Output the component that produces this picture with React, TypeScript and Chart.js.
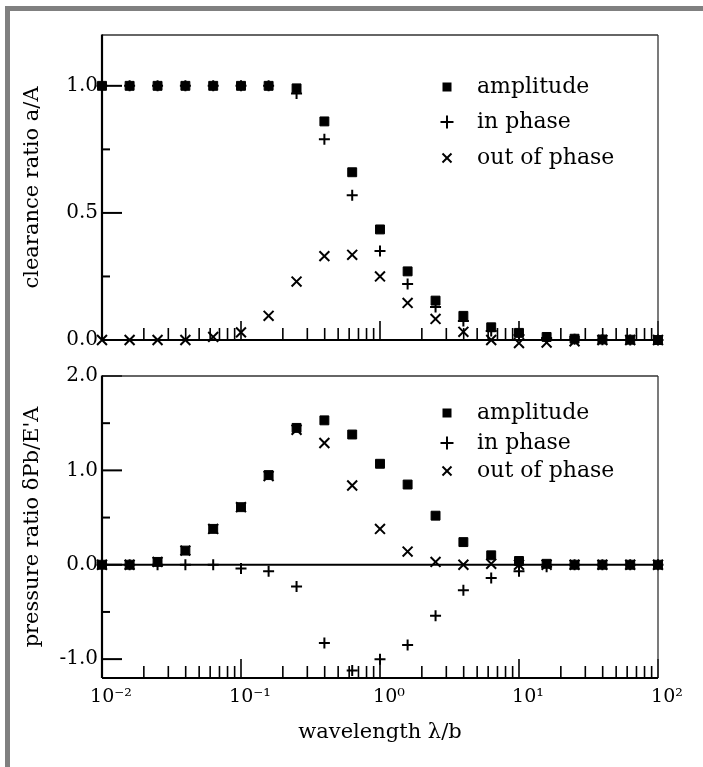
import React, { useEffect, useRef } from 'react';
import { Chart, registerables } from 'chart.js';

Chart.register(...registerables);

const FONT = "'DejaVu Serif', 'Liberation Serif', serif";

// wavelength λ/b (x values, log spaced)
const wavelengths = [0.01, 0.0158, 0.0251, 0.0398, 0.0631, 0.1, 0.158, 0.251, 0.398, 0.631, 1, 1.58, 2.51, 3.98, 6.31, 10, 15.8, 25.1, 39.8, 63.1, 100];

// top panel: clearance ratio a/A
const clearanceAmplitude = [1.0, 1.0, 1.0, 1.0, 1.0, 1.0, 1.0, 0.99, 0.86, 0.66, 0.435, 0.27, 0.155, 0.095, 0.05, 0.028, 0.012, 0.005, 0.002, 0.001, 0.0];
const clearanceInPhase = [1.0, 1.0, 1.0, 1.0, 1.0, 1.0, 1.0, 0.97, 0.79, 0.57, 0.35, 0.22, 0.13, 0.075, 0.035, 0.02, 0.008, 0.003, 0.001, 0.0, 0.0];
const clearanceOutPhase = [0.0, 0.0, 0.0, 0.0, 0.012, 0.03, 0.095, 0.23, 0.33, 0.335, 0.25, 0.146, 0.083, 0.032, 0.0, -0.012, -0.01, -0.005, 0.0, 0.0, 0.0];

// bottom panel: pressure ratio δPb/E'A
const pressureAmplitude = [0.0, 0.0, 0.03, 0.15, 0.38, 0.61, 0.95, 1.45, 1.53, 1.38, 1.07, 0.85, 0.52, 0.24, 0.1, 0.04, 0.01, 0.0, 0.0, 0.0, 0.0];
const pressureInPhase = [0.0, 0.0, 0.0, 0.0, 0.0, -0.04, -0.07, -0.23, -0.83, -1.12, -1.0, -0.85, -0.54, -0.27, -0.14, -0.07, -0.02, 0.0, 0.0, 0.0, 0.0];
const pressureOutPhase = [0.0, 0.0, 0.03, 0.15, 0.38, 0.61, 0.94, 1.43, 1.29, 0.84, 0.38, 0.14, 0.03, 0.0, 0.01, 0.0, 0.0, 0.0, 0.0, 0.0, 0.0];

// ticks
const topYMajor = [0, 0.5, 1.0];
const topYMinor = [0.25, 0.75];
const bottomYMajor = [-1, 0, 1, 2];
const bottomYMinor = [-0.5, 0.5, 1.5];
const xDecades = [0.01, 0.1, 1, 10, 100];
const xDecadeLabels = ['10⁻²', '10⁻¹', '10⁰', '10¹', '10²'];
const xMinorFactors = [2, 3, 4, 5, 6, 7, 8, 9];

const seriesLabels = ['amplitude', 'in phase', 'out of phase'];

function line(ctx: CanvasRenderingContext2D, x1: number, y1: number, x2: number, y2: number) {
  ctx.beginPath();
  ctx.moveTo(x1, y1);
  ctx.lineTo(x2, y2);
  ctx.stroke();
}

function drawMarker(ctx: CanvasRenderingContext2D, kind: number, x: number, y: number) {
  ctx.fillStyle = '#000';
  ctx.strokeStyle = '#000';
  ctx.lineWidth = 2;
  if (kind === 0) {
    ctx.fillRect(x - 4.5, y - 4.5, 9, 9);
  } else if (kind === 1) {
    line(ctx, x - 6.5, y, x + 6.5, y);
    line(ctx, x, y - 6.5, x, y + 6.5);
  } else {
    line(ctx, x - 4.5, y - 4.5, x + 4.5, y + 4.5);
    line(ctx, x - 4.5, y + 4.5, x + 4.5, y - 4.5);
  }
}

function framePlugin(yMajor: number[], yMinor: number[], zeroLine: boolean, legendRows: number[]) {
  return {
    id: 'frameTicks',
    beforeDatasetsDraw(chart: any) {
      const { ctx, chartArea: a, scales } = chart;
      const xs = scales.x;
      const ys = scales.y;
      ctx.save();
      ctx.strokeStyle = '#000';
      if (zeroLine) {
        const y0 = ys.getPixelForValue(0);
        ctx.lineWidth = 2;
        line(ctx, a.left, y0, a.right, y0);
      }
      ctx.lineWidth = 2;
      yMajor.forEach((v) => {
        const y = ys.getPixelForValue(v);
        line(ctx, a.left, y, a.left + 20, y);
      });
      yMinor.forEach((v) => {
        const y = ys.getPixelForValue(v);
        line(ctx, a.left, y, a.left + 8, y);
      });
      ctx.lineWidth = 1.6;
      xDecades.forEach((d) => {
        const x = xs.getPixelForValue(d);
        line(ctx, x, a.bottom, x, a.bottom - 19);
        if (d < 100) {
          xMinorFactors.forEach((m) => {
            const xm = xs.getPixelForValue(d * m);
            line(ctx, xm, a.bottom, xm, a.bottom - 12);
          });
        }
      });
      // frame
      ctx.strokeStyle = '#333';
      ctx.lineWidth = 1.3;
      line(ctx, a.left, a.top, a.right, a.top);
      line(ctx, a.right, a.top, a.right, a.bottom);
      ctx.strokeStyle = '#000';
      ctx.lineWidth = 2.2;
      line(ctx, a.left, a.top - 0.5, a.left, a.bottom);
      line(ctx, a.left, a.bottom, a.right, a.bottom);
      ctx.restore();
    },
    afterDatasetsDraw(chart: any) {
      const { ctx, chartArea: a } = chart;
      ctx.save();
      ctx.font = `22px ${FONT}`;
      ctx.textBaseline = 'middle';
      ctx.textAlign = 'left';
      seriesLabels.forEach((lab, i) => {
        const y = a.top + legendRows[i];
        drawMarker(ctx, i, a.right - 211, y);
        ctx.fillStyle = '#000';
        ctx.fillText(lab, a.right - 181, y);
      });
      ctx.restore();
    },
  };
}

function makeDatasets(amp: number[], inp: number[], outp: number[]) {
  const pts = (arr: number[]) => wavelengths.map((x, i) => ({ x, y: arr[i] }));
  return [
    {
      label: seriesLabels[0],
      data: pts(amp),
      showLine: false,
      clip: false,
      pointStyle: 'rect',
      pointRadius: 6.3,
      pointBackgroundColor: '#000',
      pointBorderColor: '#000',
      pointBorderWidth: 1,
    },
    {
      label: seriesLabels[1],
      data: pts(inp),
      showLine: false,
      clip: false,
      pointStyle: 'cross',
      pointRadius: 5.5,
      pointBackgroundColor: '#000',
      pointBorderColor: '#000',
      pointBorderWidth: 2,
    },
    {
      label: seriesLabels[2],
      data: pts(outp),
      showLine: false,
      clip: false,
      pointStyle: 'crossRot',
      pointRadius: 7,
      pointBackgroundColor: '#000',
      pointBorderColor: '#000',
      pointBorderWidth: 2,
    },
  ];
}

function makeConfig(isTop: boolean): any {
  const yMajor = isTop ? topYMajor : bottomYMajor;
  const yMinor = isTop ? topYMinor : bottomYMinor;
  return {
    type: 'scatter',
    data: {
      datasets: isTop
        ? makeDatasets(clearanceAmplitude, clearanceInPhase, clearanceOutPhase)
        : makeDatasets(pressureAmplitude, pressureInPhase, pressureOutPhase),
    },
    options: {
      responsive: false,
      animation: false,
      events: [],
      layout: {
        padding: isTop
          ? { left: 10, right: 45, top: 35, bottom: 20 }
          : { left: 10, right: 45, top: 15, bottom: 19 },
      },
      plugins: { legend: { display: false }, tooltip: { enabled: false } },
      scales: {
        x: {
          type: 'logarithmic',
          min: 0.01,
          max: 100,
          grid: { display: false, drawTicks: false },
          border: { display: false },
          afterBuildTicks: (s: any) => {
            s.ticks = xDecades.map((v) => ({ value: v }));
          },
          ticks: {
            display: !isTop,
            autoSkip: false,
            maxRotation: 0,
            padding: 8,
            labelOffset: 9,
            color: '#000',
            font: { family: FONT, size: 19 },
            callback: (v: any, i: number) => {
              const k = xDecades.indexOf(Number(v));
              return xDecadeLabels[k >= 0 ? k : i];
            },
          },
          title: {
            display: !isTop,
            text: 'wavelength λ/b',
            color: '#000',
            font: { family: FONT, size: 21 },
            padding: { top: 0, bottom: 3 },
          },
          afterFit: (s: any) => {
            s.height = isTop ? 0 : 70;
          },
        },
        y: {
          min: isTop ? 0 : -1.2,
          max: isTop ? 1.2 : 2.0,
          grid: { display: false, drawTicks: false },
          border: { display: false },
          afterBuildTicks: (s: any) => {
            s.ticks = yMajor.map((v) => ({ value: v }));
          },
          ticks: {
            autoSkip: false,
            padding: 4,
            color: '#000',
            font: { family: FONT, size: 20 },
            callback: (v: any) => Number(v).toFixed(1),
          },
          title: {
            display: true,
            text: isTop ? 'clearance ratio a/A' : "pressure ratio δPb/E'A",
            color: '#000',
            font: { family: FONT, size: 21 },
            padding: { top: 10, bottom: 0 },
          },
          afterFit: (s: any) => {
            s.width = 92;
          },
        },
      },
    },
    plugins: [framePlugin(yMajor, yMinor, !isTop, isTop ? [52, 87, 123] : [37, 67, 95])],
  };
}

export default function App() {
  const topRef = useRef<HTMLCanvasElement>(null);
  const bottomRef = useRef<HTMLCanvasElement>(null);

  useEffect(() => {
    const c1 = new Chart(topRef.current as HTMLCanvasElement, makeConfig(true));
    const c2 = new Chart(bottomRef.current as HTMLCanvasElement, makeConfig(false));
    return () => {
      c1.destroy();
      c2.destroy();
    };
  }, []);

  return (
    <div style={{ position: 'absolute', left: 0, top: 0, width: 703, height: 767, overflow: 'hidden', background: '#fff' }}>
      <div
        style={{
          position: 'absolute',
          left: 5,
          top: 6,
          width: 900,
          height: 1000,
          borderLeft: '5px solid #808080',
          borderTop: '5px solid #808080',
        }}
      />
      <canvas ref={topRef} width={703} height={360} style={{ position: 'absolute', left: 0, top: 0 }} />
      <canvas ref={bottomRef} width={703} height={407} style={{ position: 'absolute', left: 0, top: 360 }} />
    </div>
  );
}
